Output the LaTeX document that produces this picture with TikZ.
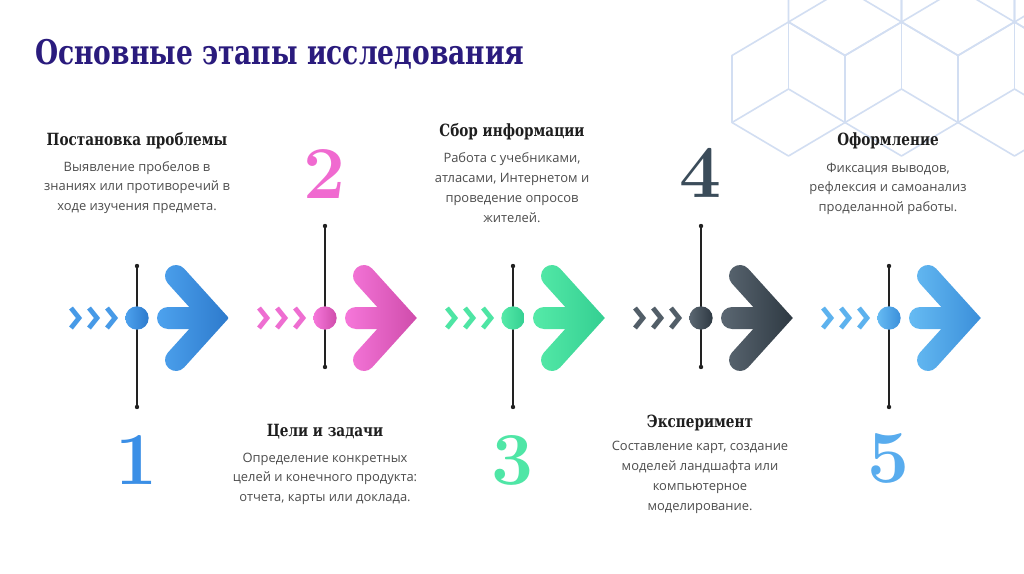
\documentclass[tikz,border=0pt]{standalone}
\usepackage{fontspec}
\usepackage{graphicx}
\newfontfamily\serifb{DejaVu Serif}
\newfontfamily\opensans{Open Sans}
\definecolor{titlecol}{HTML}{2A1B7D}
\definecolor{headcol}{HTML}{1E1E1E}
\definecolor{desccol}{HTML}{4D4D4D}
\definecolor{hexcol}{HTML}{D2DEF2}
\definecolor{stemcol}{HTML}{222222}
\definecolor{aL}{HTML}{4DA2EE}\definecolor{aD}{HTML}{2D7ACC}\definecolor{aN}{HTML}{3B8FE6}
\definecolor{bL}{HTML}{F677DA}\definecolor{bD}{HTML}{CF4CAB}\definecolor{bN}{HTML}{F06AD0}
\definecolor{cL}{HTML}{55EAA8}\definecolor{cD}{HTML}{34CF92}\definecolor{cN}{HTML}{4FE6A6}
\definecolor{dL}{HTML}{5B6772}\definecolor{dD}{HTML}{2E3942}\definecolor{dN}{HTML}{3B4C5A}
\definecolor{eL}{HTML}{66BBF3}\definecolor{eD}{HTML}{3B8FDA}\definecolor{eN}{HTML}{58ACEE}
\tikzset{
  stem/.style={draw=stemcol, line width=0.9pt},
  hexline/.style={draw=hexcol, line width=1.2pt, line join=round},
  chev/.style={line width=3.6pt, line cap=butt, line join=miter},
  hub/.style={circle, minimum size=17.5pt, inner sep=0pt},
  headtext/.style={font={\serifb\bfseries\fontsize{12.6}{15}\selectfont}, text=headcol, anchor=base, inner sep=0pt},
  desctext/.style={font={\opensans\fontsize{9.7}{14.8}\selectfont}, text=desccol, align=center, anchor=base, inner sep=0pt},
  numtext/.style={font={\fontsize{56}{56}\selectfont\bfseries}, anchor=base, inner sep=0pt},
}
\newcommand{\stagegroup}[4]{%
  \coordinate (top#1) at (#2,#3);
  \coordinate (bot#1) at (#2,#4);
  \draw[stem] (top#1) -- (bot#1);
  \fill[stemcol] (top#1) circle[radius=2.2];
  \fill[stemcol] (bot#1) circle[radius=2.2];
  \foreach \k in {0,1,2}{
    \draw[chev, draw=#1L!80!#1D] ({#2-66+18*\k},308) -- ++(8,10) -- ++(-8,10);
  }
  \shade[left color=#1L, right color=#1D, shift={(#2,318)}]
    (31,-11) -- (52.21,-11) -- (30.84,-34.62)
    arc[start angle=137.86, end angle=317.86, radius=11]
    -- (91.84,0) -- (47.16,49.38)
    arc[start angle=42.14, end angle=222.14, radius=11]
    -- (52.21,11) -- (31,11)
    arc[start angle=90, end angle=270, radius=11] -- cycle;
  \node[hub, left color=#1L, right color=#1D] (hub#1) at (#2,318) {};
}
\begin{document}
\begin{tikzpicture}[x=0.75pt, y=0.75pt, yscale=-1]
\useasboundingbox (0,0) rectangle (1024,574);
\fill[white] (0,0) rectangle (1024,574);
% hexagon pattern
\begin{scope}
\clip (0,0) rectangle (1024,574);
\foreach \cx in {788.5,901.5,1014.5}{
  \draw[hexline] (\cx,22) -- (\cx+56.5,55.5) -- (\cx+56.5,122.5) -- (\cx,156) -- (\cx-56.5,122.5) -- (\cx-56.5,55.5) -- cycle;
  \draw[hexline] (\cx-56.5,122.5) -- (\cx,89) -- (\cx+56.5,122.5);
  \draw[hexline] (\cx,89) -- (\cx,22);
}
\foreach \cx in {845,958,1071}{
  \draw[hexline] (\cx,-78) -- (\cx+56.5,-45) -- (\cx+56.5,22) -- (\cx,55.5) -- (\cx-56.5,22) -- (\cx-56.5,-45) -- cycle;
  \draw[hexline] (\cx-56.5,22) -- (\cx,-11.5) -- (\cx+56.5,22);
  \draw[hexline] (\cx,-11.5) -- (\cx,-78);
}
\end{scope}
% title
\node[anchor=base west, inner sep=0pt, text=titlecol, font={\serifb\bfseries\fontsize{25.5}{30}\selectfont}] (title) at (35,64.5) {\scalebox{0.78}[1]{Основные этапы исследования}};
% stages
\stagegroup{a}{137}{266}{407}
\stagegroup{b}{325}{226}{367}
\stagegroup{c}{513}{266}{407}
\stagegroup{d}{701}{226}{367}
\stagegroup{e}{889}{266}{407}
% numbers
\node[numtext, text=aN] (n1) at (137,484) {1};
\node[numtext, text=bN] (n2) at (325,199) {2};
\node[numtext, text=cN] (n3) at (513,484) {3};
\node[numtext, text=dN] (n4) at (701,198) {4};
\node[numtext, text=eN] (n5) at (889,482) {5};
% texts (base anchor = baseline of last line)
\node[headtext] (h1) at (137,146) {\scalebox{0.81}[1]{Постановка проблемы}};
\node[desctext] (d1) at (137,210.5) {Выявление пробелов в\\знаниях или противоречий в\\ходе изучения предмета.};
\node[headtext] (h2) at (325,436) {\scalebox{0.81}[1]{Цели и задачи}};
\node[desctext] (d2) at (325,501.5) {Определение конкретных\\целей и конечного продукта:\\отчета, карты или доклада.};
\node[headtext] (h3) at (512,137) {\scalebox{0.81}[1]{Сбор информации}};
\node[desctext] (d3) at (512,222) {Работа с учебниками,\\атласами, Интернетом и\\проведение опросов\\жителей.};
\node[headtext] (h4) at (700,427) {\scalebox{0.81}[1]{Эксперимент}};
\node[desctext] (d4) at (700,510) {Составление карт, создание\\моделей ландшафта или\\компьютерное\\моделирование.};
\node[headtext] (h5) at (888,146) {\scalebox{0.81}[1]{Оформление}};
\node[desctext] (d5) at (888,211.5) {Фиксация выводов,\\рефлексия и самоанализ\\проделанной работы.};
\end{tikzpicture}
\end{document}
